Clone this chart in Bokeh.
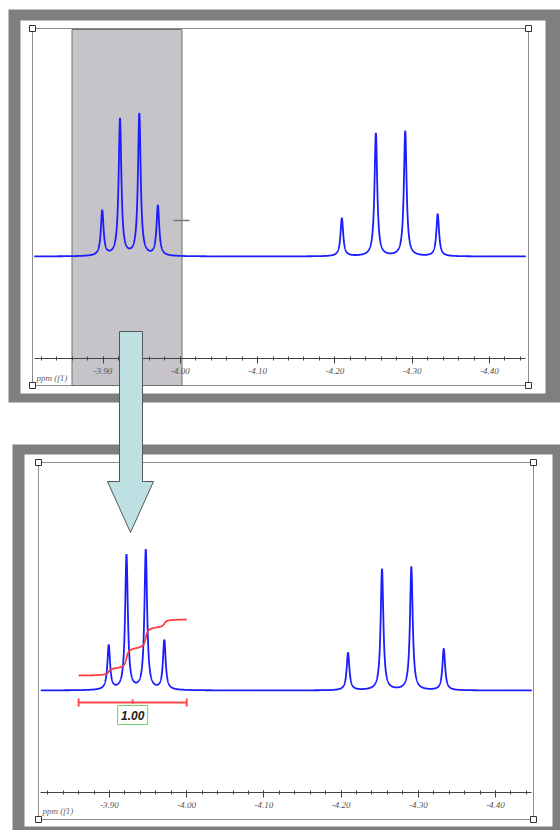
import numpy as np
from bokeh.plotting import figure
from bokeh.models import Range1d, LinearAxis, FixedTicker, PrintfTickFormatter
from bokeh.core.properties import value
from bokeh.embed import file_html
from bokeh.resources import INLINE

# ---- spectrum data: peak list of the two multiplets (ppm, height) ----
multiplet_a_ppm = [-3.899, -3.922, -3.947, -3.971]
multiplet_a_height = [45, 137, 142, 50]
multiplet_b_ppm = [-4.209, -4.253, -4.291, -4.333]
multiplet_b_height = [38, 123, 125, 42]
line_halfwidth_ppm = 0.0021
spectrum_limits_ppm = [-3.811, -4.447]

# ---- axis ticks ----
major_ticks = [-3.90, -4.00, -4.10, -4.20, -4.30, -4.40]
minor_ticks = [float(v) for v in np.round(np.arange(-3.82, -4.45, -0.02), 2)]

# ---- integration of the first multiplet ----
integral_region_ppm = [-3.860, -4.000]
integral_value = 1.00
integral_label = "1.00"

W, H = 560, 830

peak_ppm = np.array(multiplet_a_ppm + multiplet_b_ppm)
peak_height = np.array(multiplet_a_height + multiplet_b_height, dtype=float)
ppm = np.linspace(spectrum_limits_ppm[0], spectrum_limits_ppm[1], 6000)
intensity = np.zeros_like(ppm)
for x0, h in zip(peak_ppm, peak_height):
    intensity += h / (1.0 + ((ppm - x0) / line_halfwidth_ppm) ** 2)

lo, hi = sorted(integral_region_ppm)
mask = (ppm >= lo) & (ppm <= hi)
int_ppm = ppm[mask]
cum = np.cumsum(intensity[mask])
int_curve = cum / cum[-1] * integral_value

# canvas in pixel units (y grows downwards)
p = figure(width=W, height=H, output_backend="svg", toolbar_location=None,
           x_axis_type=None, y_axis_type=None,
           x_range=Range1d(0, W), y_range=Range1d(H, 0),
           min_border=0, outline_line_color=None,
           background_fill_color="white", border_fill_color="white")


def ppm_range(px_at_390, px_per_tenth):
    scale = px_per_tenth / 0.1
    return Range1d(start=-3.90 + px_at_390 / scale,
                   end=-3.90 - (W - px_at_390) / scale)


def level_range(baseline_px, px_per_unit):
    return Range1d(start=-(H - baseline_px) / px_per_unit,
                   end=baseline_px / px_per_unit)


p.extra_x_ranges = {"ppm_top": ppm_range(102.5, 77.3),
                    "ppm_bot": ppm_range(109.0, 77.2)}
p.extra_y_ranges = {"int_top": level_range(256, 1.0),
                    "int_bot": level_range(690, 0.985),
                    "integ_bot": level_range(675, 56.0)}

FRAME_GRAY = "#7f7f7f"
BOX_GRAY = "#8c8c8c"

# window frames
p.quad(left=[8, 12], right=[W, W], top=[9, 444], bottom=[402, H],
       fill_color=FRAME_GRAY, line_color=None)
p.quad(left=[20, 24], right=[545, 552], top=[20, 454], bottom=[393, 826],
       fill_color="white", line_color=None)
# page boxes
p.quad(left=[32, 38], right=[528, 533], top=[28, 462], bottom=[385, 819],
       fill_color=None, line_color=BOX_GRAY, line_width=1)

# selected region in the upper view
p.quad(left=[71.5], right=[181.5], top=[29], bottom=[385],
       fill_color="#c6c4c8", line_color="#707070", line_width=1)

# spectra
p.line(ppm, intensity, x_range_name="ppm_top", y_range_name="int_top",
       line_color="#1c1cff", line_width=1.8)
p.line(ppm, intensity, x_range_name="ppm_bot", y_range_name="int_bot",
       line_color="#1c1cff", line_width=1.8)

# cursor mark
p.segment(x0=[173], y0=[220], x1=[189], y1=[220], line_color="#777777", line_width=1.5)

# integral curve
p.line(int_ppm, int_curve, x_range_name="ppm_bot", y_range_name="integ_bot",
       line_color="#ff3b3b", line_width=1.8)

# integration bracket
mid = (integral_region_ppm[0] + integral_region_ppm[1]) / 2
RED = "#ff4b4b"
p.segment(x0=[integral_region_ppm[0], integral_region_ppm[0], integral_region_ppm[1], mid],
          y0=[702, 698, 698, 699],
          x1=[integral_region_ppm[1], integral_region_ppm[0], integral_region_ppm[1], mid],
          y1=[702, 706, 706, 703],
          x_range_name="ppm_bot", line_color=RED, line_width=2)
p.rect(x=[mid], y=[714.5], width=30, height=19, width_units="screen", height_units="screen",
       x_range_name="ppm_bot", fill_color="white", line_color="#6fcf6f", line_width=1)
p.text(x=[mid], y=[715], text=[integral_label], x_range_name="ppm_bot",
       text_font=value("Liberation Sans"), text_font_style="bold italic",
       text_font_size="12px", text_color="#222222",
       text_align="center", text_baseline="middle")

# axis captions
p.text(x=[36, 42], y=[377, 810], text=["ppm (f1)", "ppm (f1)"],
       text_font=value("Liberation Serif"), text_font_style="italic",
       text_font_size="9px", text_color="#666666",
       text_align="left", text_baseline="middle")

# corner handles
p.scatter(x=[32, 528, 32, 528, 38, 533, 38, 533],
          y=[28, 28, 385, 385, 462, 462, 819, 819],
          marker="square", size=6, fill_color="white", line_color="#333333", line_width=1)

# ppm axes
for rng, loc in (("ppm_top", 358), ("ppm_bot", 792)):
    ax = LinearAxis(x_range_name=rng, fixed_location=loc,
                    ticker=FixedTicker(ticks=major_ticks, minor_ticks=minor_ticks),
                    formatter=PrintfTickFormatter(format="%.2f"),
                    bounds=(-4.447, -3.811))
    ax.axis_line_color = "#444444"
    ax.major_tick_line_color = "#444444"
    ax.minor_tick_line_color = "#444444"
    ax.major_tick_in = 2
    ax.major_tick_out = 5
    ax.minor_tick_in = 2
    ax.minor_tick_out = 2
    ax.major_label_standoff = 4
    ax.major_label_text_font = "Liberation Serif"
    ax.major_label_text_font_style = "italic"
    ax.major_label_text_font_size = "9px"
    ax.major_label_text_color = "#555555"
    p.add_layout(ax, "below")

# arrow from the selection to the zoomed view
p.patch(x=[119, 142, 142, 153, 130, 107, 119],
        y=[331, 331, 481, 481, 532, 481, 481],
        fill_color="#bde0e3", line_color="#555555", line_width=1, level="overlay")

open("out.html", "w").write(file_html(p, INLINE))
